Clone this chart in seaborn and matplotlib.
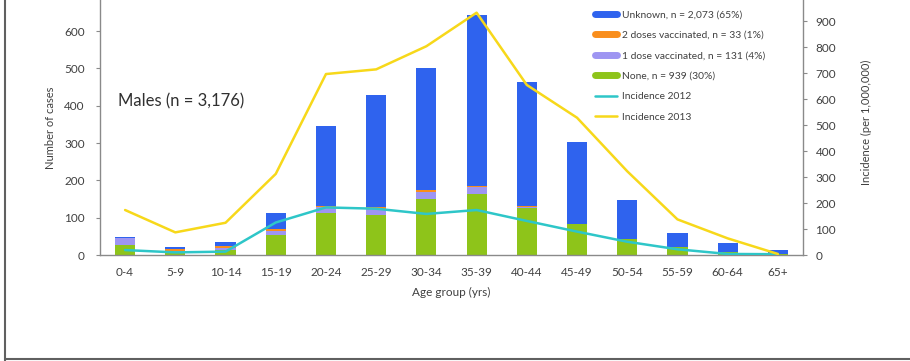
import numpy as np
import pandas as pd
import matplotlib
matplotlib.use("Agg")
import matplotlib.pyplot as plt
from matplotlib.lines import Line2D
import seaborn as sns

# Age groups and case counts by vaccination status (males)
age_groups = ["0-4", "5-9", "10-14", "15-19", "20-24", "25-29", "30-34",
              "35-39", "40-44", "45-49", "50-54", "55-59", "60-64", "65+"]
none_cases = [27, 7, 13, 54, 112, 106, 149, 164, 126, 82, 42, 21, 9, 2]
one_dose = [19, 3, 5, 9, 16, 18, 21, 18, 4, 2, 2, 0, 0, 0]
two_doses = [0, 6, 7, 8, 3, 4, 3, 3, 1, 0, 0, 0, 0, 0]
unknown = [2, 6, 9, 41, 215, 301, 327, 458, 334, 219, 103, 39, 24, 11]

# Incidence per 1,000,000
incidence_2012 = [19, 10, 13, 125, 183, 178, 158, 173, 131, 90, 51, 22, 4, 3]
incidence_2013 = [173, 87, 124, 312, 696, 714, 803, 932, 654, 528, 322, 137, 64, 4]

legend_labels = ["Unknown, n = 2,073 (65%)", "2 doses vaccinated, n = 33 (1%)",
                 "1 dose vaccinated, n = 131 (4%)", "None, n = 939 (30%)",
                 "Incidence 2012", "Incidence 2013"]

c_unknown = "#2F63EE"
c_two = "#F98E1C"
c_one = "#9E95F2"
c_none = "#8EC41A"
c_2012 = "#2EC6C8"
c_2013 = "#F7D81A"
text_c = "#404040"
spine_c = "#8A8A8A"

sns.set_style("white")
plt.rcParams["font.family"] = ["Lato", "DejaVu Sans"]

df = pd.DataFrame({
    "age": age_groups,
    "none": none_cases,
    "one": one_dose,
    "two": two_doses,
    "unknown": unknown,
})
df["lvl1"] = df["none"]
df["lvl2"] = df["lvl1"] + df["one"]
df["lvl3"] = df["lvl2"] + df["two"]
df["lvl4"] = df["lvl3"] + df["unknown"]

fig = plt.figure(figsize=(9.10, 3.61), dpi=100)
W, H = 910, 361
ax = fig.add_axes([100 / W, (H - 255) / H, 703 / W, 255 / H])

# Stacked bars drawn as overlapping cumulative totals
for col, color in [("lvl4", c_unknown), ("lvl3", c_two), ("lvl2", c_one), ("lvl1", c_none)]:
    sns.barplot(data=df, x="age", y=col, color=color, width=0.4,
                saturation=1, ax=ax, linewidth=0, order=age_groups)

ax.set_xlim(-0.5, len(age_groups) - 0.5)
ax.set_ylim(0, 683.6)
ax.set_yticks(range(0, 700, 100))
ax.set_ylabel("Number of cases", fontsize=8, color=text_c, labelpad=6)
ax.set_xlabel("Age group (yrs)", fontsize=8.5, color=text_c, labelpad=6)
ax.tick_params(axis="y", labelsize=8.5, colors=text_c, length=3, color=spine_c, pad=8)
ax.tick_params(axis="x", labelsize=8.5, colors=text_c, length=0, pad=9)
# boundary tick marks between age groups
ax.set_xticks(np.arange(-0.5, len(age_groups), 1.0), minor=True)
ax.tick_params(axis="x", which="minor", length=3, color=spine_c, direction="out")
for s in ["top", "right"]:
    ax.spines[s].set_visible(False)
for s in ["left", "bottom"]:
    ax.spines[s].set_color(spine_c)
    ax.spines[s].set_linewidth(1)

ax2 = ax.twinx()
xpos = np.arange(len(age_groups))
sns.lineplot(x=xpos, y=incidence_2012, color=c_2012, linewidth=1.8, ax=ax2)
sns.lineplot(x=xpos, y=incidence_2013, color=c_2013, linewidth=1.8, ax=ax2)
ax2.set_ylim(0, 980.8)
ax2.set_yticks(range(0, 1000, 100))
ax2.set_ylabel("Incidence (per 1,000,000)", fontsize=8, color=text_c, labelpad=18)
ax2.tick_params(axis="y", labelsize=8.5, colors=text_c, length=3, color=spine_c, pad=6)
for s in ["top", "left", "bottom"]:
    ax2.spines[s].set_visible(False)
ax2.spines["right"].set_color(spine_c)
ax2.spines["right"].set_linewidth(1)
ax2.yaxis.label.set_position((1, 0.52))

ax.text(18 / 703, (255 - 101) / 255, "Males (n = 3,176)", transform=ax.transAxes,
        fontsize=12, color="#303030", va="center", ha="left")

handles = [Line2D([], [], color=c_unknown, lw=5),
           Line2D([], [], color=c_two, lw=5),
           Line2D([], [], color=c_one, lw=5),
           Line2D([], [], color=c_none, lw=5),
           Line2D([], [], color=c_2012, lw=1.8),
           Line2D([], [], color=c_2013, lw=1.8)]
leg = fig.legend(handles, legend_labels, loc="upper left",
                 bbox_to_anchor=(593 / W, 1 - 8 / H), frameon=False,
                 fontsize=7.4, handlelength=2.1, handletextpad=0.5,
                 labelspacing=1.1, borderaxespad=0, borderpad=0.2)
for t in leg.get_texts():
    t.set_color(text_c)

# page frame lines
fig.add_artist(Line2D([5 / W, 5 / W], [0, 1], transform=fig.transFigure,
                      color="#606060", lw=1.5))
fig.add_artist(Line2D([5 / W, 1], [2 / H, 2 / H], transform=fig.transFigure,
                      color="#606060", lw=1.5))

fig.savefig("out.png", dpi=100)
